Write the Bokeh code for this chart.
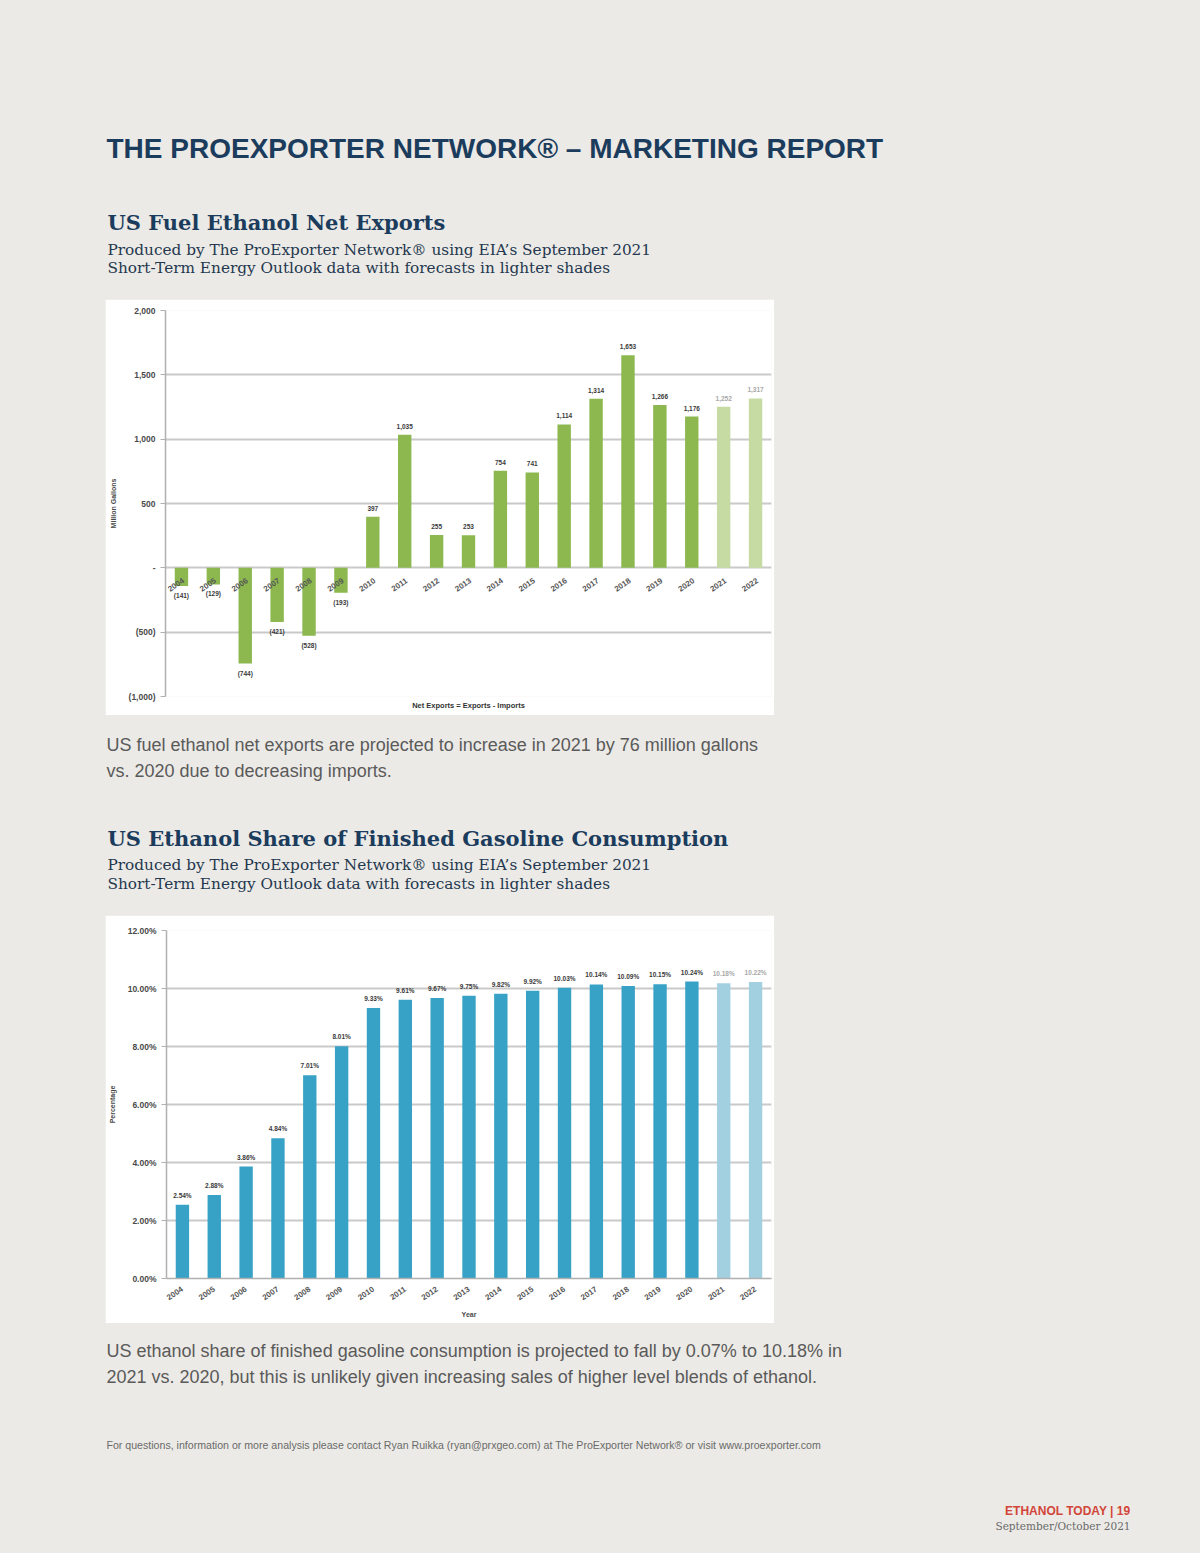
from bokeh.plotting import figure
from bokeh.models import Range1d, FactorRange, FixedTicker, ColumnDataSource, Spacer, Title
from bokeh.layouts import column, row
from bokeh.core.properties import value
from bokeh.embed import file_html
from bokeh.resources import INLINE

# ---------------- data ----------------
years = [str(y) for y in range(2004, 2023)]
forecast_years = ["2021", "2022"]

net_exports = [-141, -129, -744, -421, -528, -193, 397, 1035, 255, 253,
               754, 741, 1114, 1314, 1653, 1266, 1176, 1252, 1317]

ethanol_share = [2.54, 2.88, 3.86, 4.84, 7.01, 8.01, 9.33, 9.61, 9.67, 9.75,
                 9.82, 9.92, 10.03, 10.14, 10.09, 10.15, 10.24, 10.18, 10.22]

net_ticks = [-1000, -500, 0, 500, 1000, 1500, 2000]
net_tick_labels = ["(1,000)", "(500)", "-", "500", "1,000", "1,500", "2,000"]
share_ticks = [0, 2, 4, 6, 8, 10, 12]
share_tick_labels = ["0.00%", "2.00%", "4.00%", "6.00%", "8.00%", "10.00%", "12.00%"]

# ---------------- styles ----------------
BG = "#ECEAE6"
NAVY = "#1B3C5C"
SUB = "#24384F"
GREY_TXT = "#5A5A5A"
GREEN = "#8CB84F"
GREEN_L = "#C6DAA3"
BLUE = "#37A2C6"
BLUE_L = "#A3D0E1"
GRID = "#C9C9C9"
AX_TXT = "#4A4A4A"

W = 1200
CH_X = 105      # left edge of chart panels
CH_W = 669


def page_fig(y0, y1):
    f = figure(width=W, height=y1 - y0, x_range=Range1d(0, W),
               y_range=Range1d(y1, y0), output_backend="svg",
               toolbar_location=None, min_border=0)
    f.axis.visible = False
    f.grid.visible = False
    f.outline_line_color = None
    f.background_fill_color = BG
    f.border_fill_color = BG
    return f


def add_text(f, x, y, s, font, size, color, style="normal", align="left"):
    f.text(x=[x], y=[y], text=[s], text_font=value(font),
           text_font_size=f"{size}px", text_font_style=style,
           text_color=color, text_align=align, text_baseline="alphabetic")


SERIF = "DejaVu Serif"
SANS = "Liberation Sans"

# ---------------- header ----------------
head = page_fig(0, 299)
add_text(head, 106, 148, "THE PROEXPORTER NETWORK\u00ae \u2013 MARKETING REPORT",
         SANS, 28, NAVY, "bold")
add_text(head, 107, 222, "US Fuel Ethanol Net Exports", SERIF, 21, NAVY, "bold")
add_text(head, 107, 249, "Produced by The ProExporter Network\u00ae using EIA\u2019s September 2021",
         SERIF, 15.3, SUB)
add_text(head, 107, 267, "Short-Term Energy Outlook data with forecasts in lighter shades",
         SERIF, 15.3, SUB)


def style_y_axis(p, label):
    p.yaxis.axis_label = label
    p.yaxis.axis_label_text_font = SANS
    p.yaxis.axis_label_text_font_size = "7px"
    p.yaxis.axis_label_text_font_style = "bold"
    p.yaxis.axis_label_text_color = AX_TXT
    p.yaxis.axis_label_standoff = 9
    p.yaxis.major_label_text_font = SANS
    p.yaxis.major_label_text_font_size = "8.5px"
    p.yaxis.major_label_text_font_style = "bold"
    p.yaxis.major_label_text_color = AX_TXT
    p.yaxis.major_label_standoff = 5
    p.yaxis.major_tick_out = 5
    p.yaxis.major_tick_in = 0
    p.yaxis.major_tick_line_color = "#B0B0B0"
    p.yaxis.minor_tick_line_color = None
    p.yaxis.axis_line_color = "#B0B0B0"
    p.yaxis.axis_line_width = 1.5
    p.ygrid.grid_line_color = GRID
    p.ygrid.grid_line_width = 2
    p.xgrid.grid_line_color = None
    p.outline_line_color = None
    p.background_fill_color = "white"
    p.border_fill_color = "white"


# ---------------- chart 1 ----------------
p1 = figure(width=CH_W, height=416, x_range=FactorRange(*years),
            y_range=Range1d(-1000, 2000), output_backend="svg",
            toolbar_location=None, min_border_left=60, min_border_right=3,
            min_border_top=11, min_border_bottom=19)
style_y_axis(p1, "Million Gallons")
p1.yaxis.ticker = FixedTicker(ticks=net_ticks)
p1.yaxis.major_label_overrides = {t: l for t, l in zip(net_ticks, net_tick_labels)}
p1.xaxis.visible = False

src1 = ColumnDataSource(dict(
    x=years, v=net_exports,
    color=[GREEN_L if y in forecast_years else GREEN for y in years],
    tcolor=["#A8A8A8" if y in forecast_years else "#3A3A3A" for y in years],
    lab=[f"({abs(v):,})" if v < 0 else f"{v:,}" for v in net_exports]))
p1.vbar(x="x", top="v", bottom=0, width=0.42, source=src1,
        fill_color="color", line_color=None)

pos_idx = [i for i, v in enumerate(net_exports) if v >= 0]
neg_idx = [i for i, v in enumerate(net_exports) if v < 0]
src1p = ColumnDataSource({k: [src1.data[k][i] for i in pos_idx] for k in src1.data})
src1n = ColumnDataSource({k: [src1.data[k][i] for i in neg_idx] for k in src1.data})
p1.text(x="x", y="v", text="lab", source=src1p, text_align="center",
        text_baseline="bottom", y_offset=-6, text_font=value(SANS),
        text_font_size="6.5px", text_font_style="bold", text_color="tcolor")
p1.text(x="x", y="v", text="lab", source=src1n, text_align="center",
        text_baseline="top", y_offset=6, text_font=value(SANS),
        text_font_size="6.5px", text_font_style="bold", text_color="tcolor")
p1.text(x=years, y=[0] * len(years), text=years, angle=0.6,
        text_align="right", text_baseline="middle", x_offset=2, y_offset=12,
        text_font=value(SANS), text_font_size="8px", text_font_style="bold",
        text_color="#555555")
p1.add_layout(Title(text="Net Exports = Exports - Imports", align="center",
                    text_font=SANS, text_font_size="7.5px", text_font_style="bold",
                    text_color="#333333", standoff=5), "below")

# ---------------- middle text ----------------
mid = page_fig(715, 915)
add_text(mid, 106, 744, "US fuel ethanol net exports are projected to increase in 2021 by 76 million gallons",
         SANS, 18, GREY_TXT)
add_text(mid, 106, 770, "vs. 2020 due to decreasing imports.", SANS, 18, GREY_TXT)
add_text(mid, 107, 838, "US Ethanol Share of Finished Gasoline Consumption", SERIF, 21, NAVY, "bold")
add_text(mid, 107, 864, "Produced by The ProExporter Network\u00ae using EIA\u2019s September 2021",
         SERIF, 15.3, SUB)
add_text(mid, 107, 883, "Short-Term Energy Outlook data with forecasts in lighter shades",
         SERIF, 15.3, SUB)

# ---------------- chart 2 ----------------
p2 = figure(width=CH_W, height=408, x_range=FactorRange(*years),
            y_range=Range1d(0, 12), output_backend="svg",
            toolbar_location=None, min_border_left=60, min_border_right=3,
            min_border_top=15, min_border_bottom=45)
style_y_axis(p2, "Percentage")
p2.yaxis.ticker = FixedTicker(ticks=share_ticks)
p2.yaxis.major_label_overrides = {t: l for t, l in zip(share_ticks, share_tick_labels)}
p2.xaxis.axis_label = "Year"
p2.xaxis.axis_label_text_font = SANS
p2.xaxis.axis_label_text_font_size = "7px"
p2.xaxis.axis_label_text_font_style = "bold"
p2.xaxis.axis_label_text_color = AX_TXT
p2.xaxis.axis_label_standoff = 5
p2.xaxis.major_label_orientation = 0.6
p2.xaxis.major_label_text_font = SANS
p2.xaxis.major_label_text_font_size = "8px"
p2.xaxis.major_label_text_font_style = "bold"
p2.xaxis.major_label_text_color = "#555555"
p2.xaxis.major_label_standoff = 4
p2.xaxis.major_tick_line_color = None
p2.xaxis.axis_line_color = "#B0B0B0"
p2.xaxis.axis_line_width = 1.5

src2 = ColumnDataSource(dict(
    x=years, v=ethanol_share,
    color=[BLUE_L if y in forecast_years else BLUE for y in years],
    tcolor=["#A8A8A8" if y in forecast_years else "#3A3A3A" for y in years],
    lab=[f"{v:.2f}%" for v in ethanol_share]))
p2.vbar(x="x", top="v", bottom=0, width=0.42, source=src2,
        fill_color="color", line_color=None)
p2.text(x="x", y="v", text="lab", source=src2, text_align="center",
        text_baseline="bottom", y_offset=-6, text_font=value(SANS),
        text_font_size="6.5px", text_font_style="bold", text_color="tcolor")

# ---------------- footer ----------------
foot = page_fig(1323, 1553)
add_text(foot, 106, 1350, "US ethanol share of finished gasoline consumption is projected to fall by 0.07% to 10.18% in",
         SANS, 18, GREY_TXT)
add_text(foot, 106, 1376, "2021 vs. 2020, but this is unlikely given increasing sales of higher level blends of ethanol.",
         SANS, 18, GREY_TXT)
add_text(foot, 106, 1444, "For questions, information or more analysis please contact Ryan Ruikka (ryan@prxgeo.com) at The ProExporter Network\u00ae or visit www.proexporter.com",
         SANS, 10.6, "#6A6A6A")
add_text(foot, 1130, 1510, "ETHANOL TODAY | 19", SANS, 12, "#D2453A", "bold", "right")
add_text(foot, 1130, 1525, "September/October 2021", SERIF, 10.5, "#6A6A6A", "normal", "right")

layout = column(
    head,
    row(Spacer(width=CH_X, height=416), p1, Spacer(width=W - CH_X - CH_W, height=416)),
    mid,
    row(Spacer(width=CH_X, height=408), p2, Spacer(width=W - CH_X - CH_W, height=408)),
    foot,
    styles={"background-color": BG},
)

open("out.html", "w").write(file_html(layout, INLINE))
